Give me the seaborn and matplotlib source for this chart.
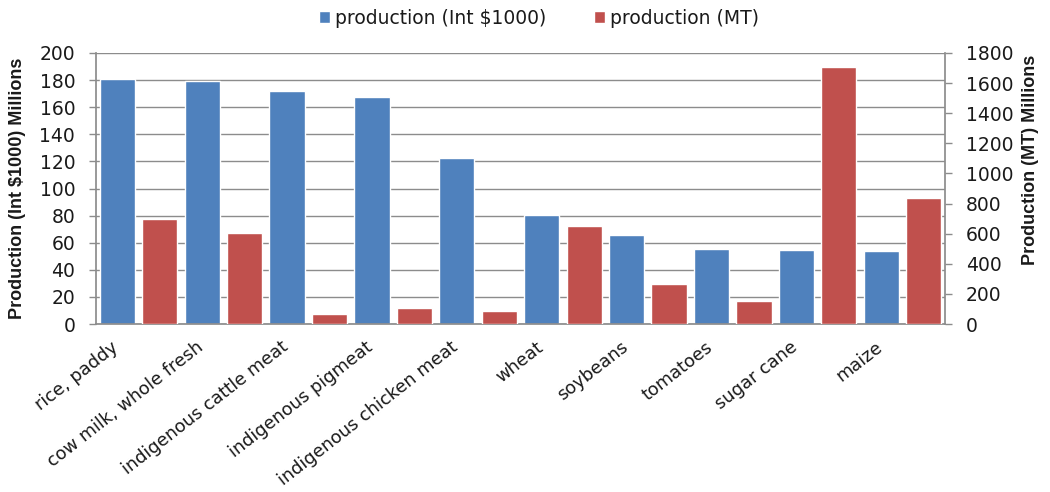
import matplotlib
matplotlib.use("Agg")
import matplotlib.pyplot as plt
import seaborn as sns
import pandas as pd
import numpy as np
from matplotlib.patches import Patch

categories = ["rice, paddy", "cow milk, whole fresh", "indigenous cattle meat",
              "indigenous pigmeat", "indigenous chicken meat", "wheat", "soybeans",
              "tomatoes", "sugar cane", "maize"]
value_int = [180.6, 179.6, 172.2, 167.3, 122.3, 80.4, 65.9, 55.4, 54.6, 54.1]
value_mt = [695, 602, 66, 108, 89, 653, 266, 151, 1709, 839]
left_ticks = list(range(0, 201, 20))
right_ticks = list(range(0, 1801, 200))

BLUE = "#4F81BD"
RED = "#C0504D"
GRID = "#8c8c8c"
TXT = "#1a1a1a"

sns.set_theme(style="white")
plt.rcParams['font.family'] = ['DejaVu Sans']

slots = []
for i in range(len(categories)):
    slots += [f"{i}a", f"{i}b"]

df_int = pd.DataFrame({"slot": [f"{i}a" for i in range(len(categories))], "v": value_int})
df_mt = pd.DataFrame({"slot": [f"{i}b" for i in range(len(categories))], "v": value_mt})

fig = plt.figure(figsize=(10.5, 4.92), dpi=100)
ax = fig.add_axes([96/1050, 1-324/492, (945-96)/1050, (324-53)/492])
ax.set_axisbelow(True)
sns.barplot(data=df_int, x="slot", y="v", order=slots, color=BLUE, saturation=1,
            width=0.83, ax=ax, zorder=2)
ax2 = ax.twinx()
sns.barplot(data=df_mt, x="slot", y="v", order=slots, color=RED, saturation=1,
            width=0.83, ax=ax2, zorder=2)

ax.set_xlim(-0.5, len(slots) - 0.5)
ax.set_ylim(0, 200)
ax2.set_ylim(0, 1800)
ax.set_yticks(left_ticks)
ax2.set_yticks(right_ticks)
ax.yaxis.grid(True, color=GRID, linewidth=1.0)
ax.set_yticklabels([str(t) for t in left_ticks], fontsize=13.5, color=TXT)
ax2.set_yticklabels([str(t) for t in right_ticks], fontsize=13.5, color=TXT)

# x ticks: marks at slot boundaries, labels near pair centers
label_pos = np.arange(len(categories)) * 2 + 0.5 - 0.65
ax.set_xticks(label_pos)
ax.set_xticklabels(categories, rotation=38, ha="right", rotation_mode="anchor",
                   fontsize=12.8, color=TXT)
ax.set_xticks(np.arange(-0.5, len(slots), 1.0), minor=True)
ax.tick_params(axis="x", which="major", length=0, pad=10)
ax.tick_params(axis="x", which="minor", length=5, color=GRID, width=1)
ax2.tick_params(axis="x", which="both", bottom=False, labelbottom=False)
ax.tick_params(axis="y", left=True, length=5, color=GRID, width=1, pad=10)
ax2.tick_params(axis="y", right=True, length=5, color=GRID, width=1, pad=10)

for a in (ax, ax2):
    for s in a.spines.values():
        s.set_visible(False)
    a.set_xlabel("")
ax.spines["left"].set_visible(True)
ax.spines["left"].set_color(GRID)
ax.spines["bottom"].set_visible(True)
ax.spines["bottom"].set_color(GRID)
ax2.spines["right"].set_visible(True)
ax2.spines["right"].set_color(GRID)

ax.set_ylabel("Production (Int $1000) Millions", fontsize=13, fontweight="bold",
              family="Liberation Sans", color=TXT)
ax.yaxis.set_label_coords(-70/849, 0.5)
ax2.set_ylabel("Production (MT) Millions", fontsize=13, fontweight="bold",
               family="Liberation Sans", color=TXT, rotation=90)
ax2.yaxis.set_label_coords(1 + 77/849, (324-160)/271)

handles = [Patch(facecolor=BLUE, label="production (Int $1000)"),
           Patch(facecolor=RED, label="production (MT)")]
fig.legend(handles=handles, loc="center", bbox_to_anchor=(539/1050, 1-18/492), ncol=2,
           frameon=False, fontsize=13.5, handlelength=0.6, handleheight=0.6,
           handletextpad=0.3, columnspacing=2.5, labelcolor=TXT)

fig.savefig("out.png", dpi=100)
